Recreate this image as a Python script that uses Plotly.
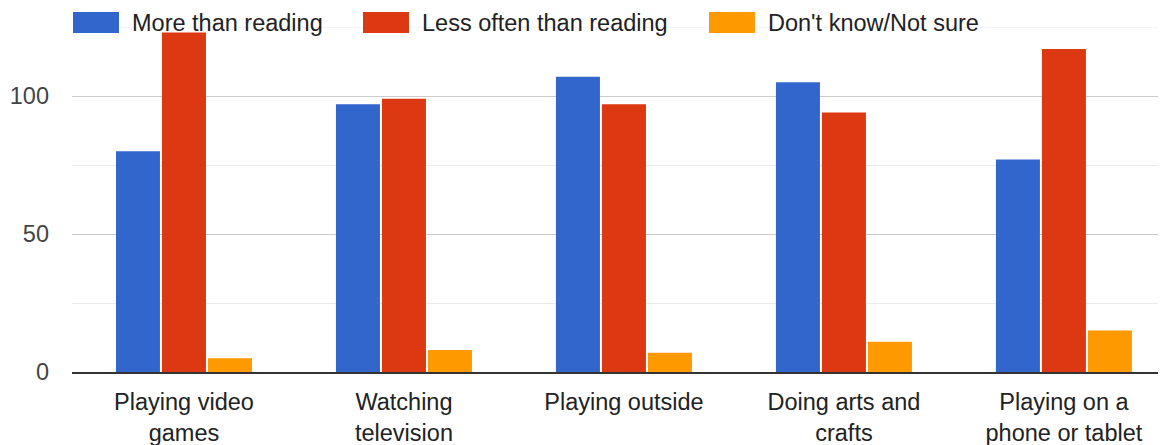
import plotly.graph_objects as go

categories = ["Playing video<br>games", "Watching<br>television", "Playing outside",
              "Doing arts and<br>crafts", "Playing on a<br>phone or tablet"]
series_names = ["More than reading", "Less often than reading", "Don't know/Not sure"]
more_than_reading = [80, 97, 107, 105, 77]
less_often = [123, 99, 97, 94, 117]
dont_know = [5, 8, 7, 11, 15]
colors = ["#3366cc", "#dc3912", "#ff9900"]
y_top = 125

# page body has an 8px margin; size the figure so it ends at the window edges
OFF = 8
W, H = 1166 - OFF, 445 - OFF
L, R, T, B = 72 - OFF, 0, 27 - OFF, 73
pw, ph = W - L - R, H - T - B

FONT = "Arial, Liberation Sans, sans-serif"
FS = 23.5

fig = go.Figure()
for name, vals, col in zip(series_names, [more_than_reading, less_often, dont_know], colors):
    fig.add_trace(go.Bar(x=categories, y=vals, name=name, marker_color=col,
                         marker_line_width=0, showlegend=False))

# top minor gridline (at the edge of the range)
fig.add_shape(type="line", xref="paper", yref="y", x0=0, x1=1, y0=y_top, y1=y_top,
              line=dict(color="#ebebeb", width=1), layer="below")

# custom legend (big rectangular swatches like the original); px in window coordinates
legend_px = [73, 363, 709]
for name, col, px in zip(series_names, colors, legend_px):
    x0 = (px - 72) / pw
    x1 = (px + 46 - 72) / pw
    y0 = (372 - 33) / ph
    y1 = (372 - 12) / ph
    fig.add_shape(type="rect", xref="paper", yref="paper", x0=x0, x1=x1, y0=y0, y1=y1,
                  fillcolor=col, line=dict(width=0), layer="above")
    fig.add_annotation(xref="paper", yref="paper", x=(px + 57 - 72) / pw,
                       y=(372 - 23) / ph, text=name, showarrow=False,
                       xanchor="left", yanchor="middle",
                       font=dict(family=FONT, size=FS, color="#222222"))

fig.update_layout(
    width=W, height=H,
    margin=dict(l=L, r=R, t=T, b=B, pad=0),
    paper_bgcolor="white", plot_bgcolor="white",
    barmode="group", bargap=0.3727, bargroupgap=0.0435,
    font=dict(family=FONT, size=FS, color="#222222"),
    showlegend=False,
)
fig.update_xaxes(
    range=[-0.509, 4.464], showgrid=False, showline=True, linecolor="#333333",
    linewidth=2, ticks="", tickfont=dict(family=FONT, size=FS, color="#222222"),
    ticklabelstandoff=8, fixedrange=True,
)
fig.update_yaxes(
    range=[0, y_top], dtick=50, tick0=0, showgrid=True, gridcolor="#cccccc", gridwidth=1,
    zeroline=False, showline=False, ticks="",
    tickfont=dict(family=FONT, size=FS, color="#444444"), ticklabelstandoff=22,
    minor=dict(dtick=25, tick0=0, showgrid=True, gridcolor="#ebebeb", gridwidth=1),
    fixedrange=True,
)

fig.write_html("out.html")
